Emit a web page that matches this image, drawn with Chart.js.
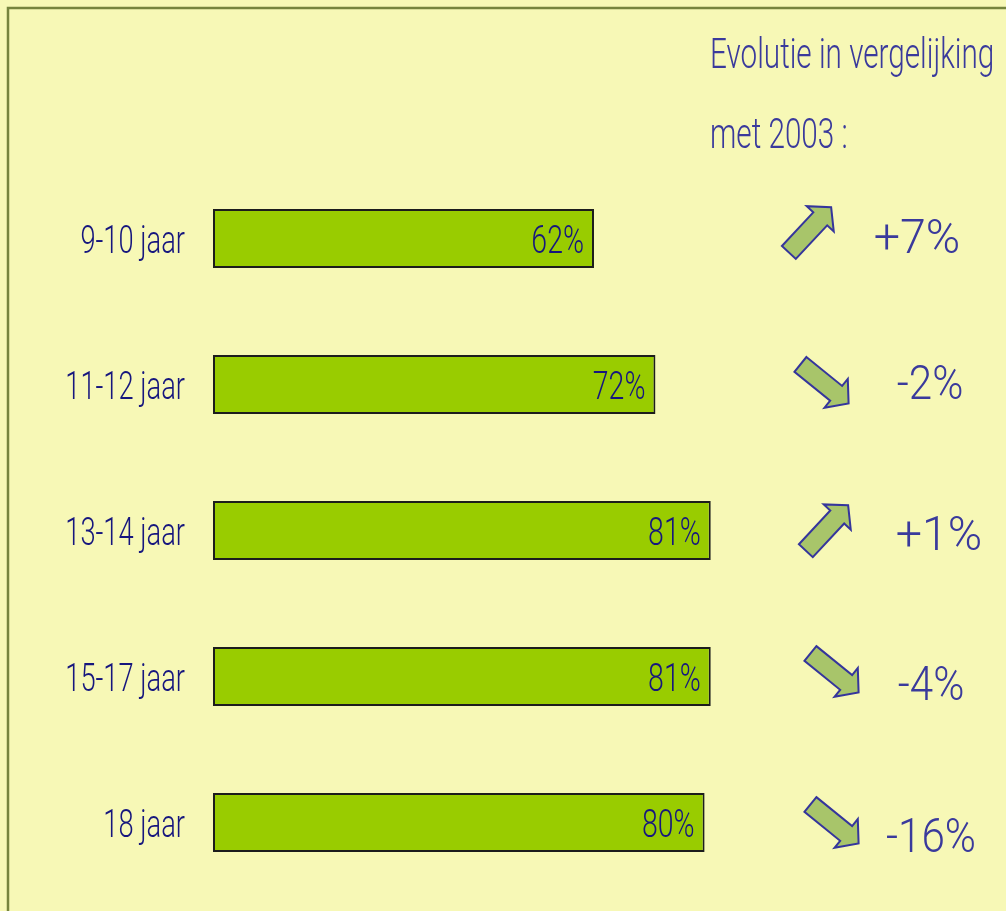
<!DOCTYPE html>
<html>
<head>
<meta charset="utf-8">
<script src="https://cdn.jsdelivr.net/npm/chart.js@4"></script>
<style>
  html, body { margin: 0; padding: 0; background: #f7f8b6; }
  #wrap { width: 1006px; height: 911px; position: relative; }
</style>
</head>
<body>
<div id="wrap"><canvas id="chart"></canvas></div>
<script>
const ageGroups = ["9-10 jaar", "11-12 jaar", "13-14 jaar", "15-17 jaar", "18 jaar"];
const shares = [62, 72, 81, 81, 80];
const changes = [7, -2, 1, -4, -16];
const titleLines = ["Evolutie in vergelijking", "met 2003 :"];

const NAVY = "#16167e";
const BLUE = "#3a3a9c";

// squeezed text, the original uses a condensed face
function drawText(ctx, text, x, y, font, color, align, sx) {
  ctx.save();
  ctx.translate(x, y);
  ctx.scale(sx, 1);
  ctx.font = font;
  ctx.fillStyle = color;
  ctx.textAlign = align;
  ctx.textBaseline = "alphabetic";
  ctx.fillText(text, 0, 0);
  ctx.restore();
}

function drawArrow(ctx, cx, cy, angle) {
  const pts = [[-31, -9.5], [15, -9.5], [15, -18.5], [31, 0], [15, 18.5], [15, 9.5], [-31, 9.5]];
  ctx.save();
  ctx.translate(cx, cy);
  ctx.rotate(angle);
  ctx.beginPath();
  pts.forEach((p, i) => i ? ctx.lineTo(p[0], p[1]) : ctx.moveTo(p[0], p[1]));
  ctx.closePath();
  ctx.fillStyle = "#a8c56a";
  ctx.fill();
  ctx.lineWidth = 2;
  ctx.lineJoin = "miter";
  ctx.strokeStyle = "#35359c";
  ctx.stroke();
  ctx.restore();
}

const decor = {
  id: "decor",
  beforeDraw(chart) {
    const ctx = chart.ctx;
    ctx.save();
    ctx.fillStyle = "#f7f8b6";
    ctx.fillRect(0, 0, chart.width, chart.height);
    ctx.strokeStyle = "#76843e";
    ctx.lineWidth = 2.5;
    ctx.strokeRect(8, 8, 1200, 1200);
    ctx.restore();
  },
  afterDatasetsDraw(chart) {
    const ctx = chart.ctx;
    const yScale = chart.scales.y;
    const bars = chart.getDatasetMeta(0).data;

    // hand placed annotation offsets
    const arrowX = [810, 824.5, 827, 834.5, 834.5];
    const arrowDy = [-8.7, -0.6, -2.5, -3.5, 1.5];
    const textX = [917, 930, 939, 931, 931];
    const textDy = [-3, -3, 2, 6.5, 12.5];

    ageGroups.forEach((lab, i) => {
      const yc = yScale.getPixelForValue(i);
      drawText(ctx, lab, 185, yc + 14, "300 39px Roboto", NAVY, "right", 0.7);
      const bar = bars[i];
      drawText(ctx, shares[i] + "%", bar.x - 10, yc + 14, "300 39px Roboto", NAVY, "right", 0.73);

      const up = changes[i] > 0;
      drawArrow(ctx, arrowX[i], yc + arrowDy[i], up ? -47 * Math.PI / 180 : 39 * Math.PI / 180);
      const txt = (up ? "+" : "") + changes[i] + "%";
      const sx = up ? 0.95 : 0.86;
      drawText(ctx, txt, textX[i], yc + textDy[i] + 17, "300 49px Roboto", BLUE, "center", sx);
    });

    drawText(ctx, titleLines[0], 710, 68, "300 43px Roboto", BLUE, "left", 0.69);
    drawText(ctx, titleLines[1], 710, 148, "300 43px Roboto", BLUE, "left", 0.69);
  }
};

new Chart(document.getElementById("chart"), {
  type: "bar",
  data: {
    labels: ageGroups,
    datasets: [{
      data: shares,
      backgroundColor: "#99cc00",
      borderColor: "#1c1c1c",
      borderWidth: 2,
      borderSkipped: false,
      barPercentage: 0.404,
      categoryPercentage: 1
    }]
  },
  options: {
    indexAxis: "y",
    responsive: true,
    maintainAspectRatio: false,
    animation: false,
    layout: {
      padding: { left: 213, right: 178.5, top: 165.5, bottom: 15.5 }
    },
    plugins: {
      legend: { display: false },
      tooltip: { enabled: false }
    },
    scales: {
      x: { display: false, min: 0, max: 100 },
      y: { display: false }
    }
  },
  plugins: [decor]
});
</script>
</body>
</html>
